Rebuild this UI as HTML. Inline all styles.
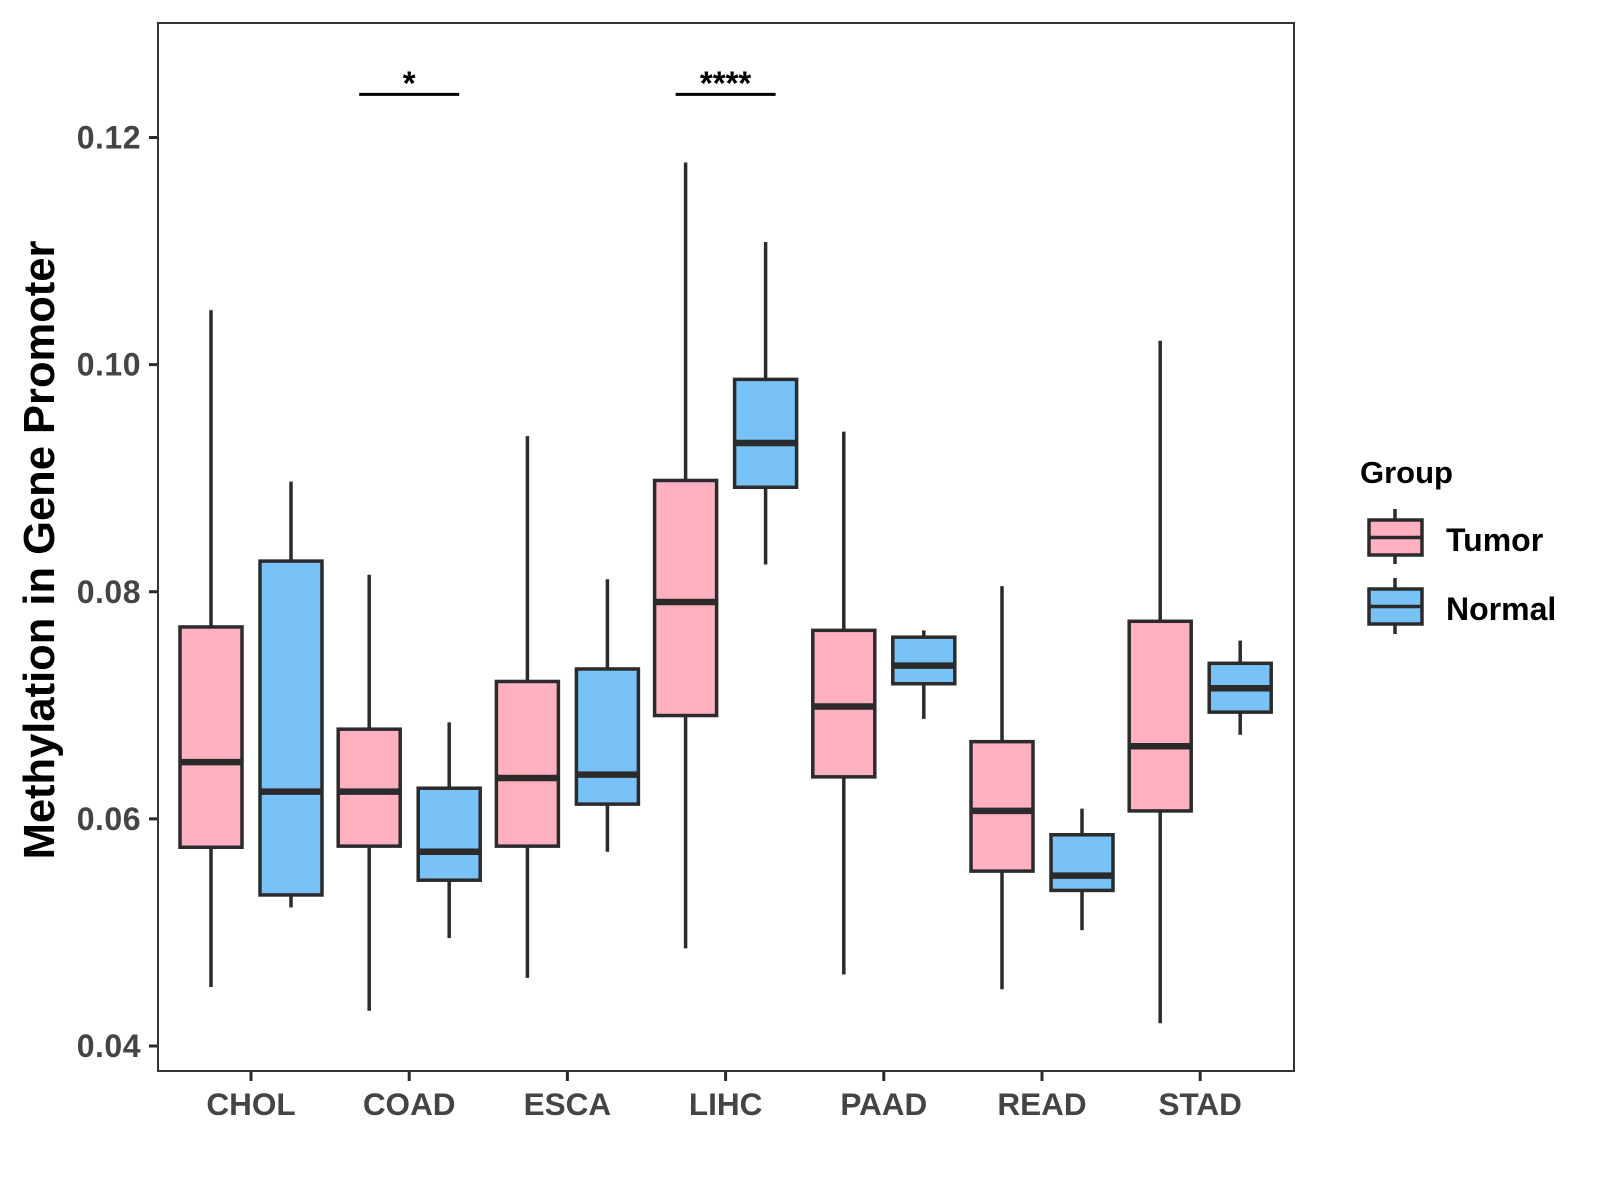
<!DOCTYPE html>
<html><head><meta charset="utf-8"><style>
body{margin:0;background:#fff;}
svg{display:block;font-family:"Liberation Sans",Arial,sans-serif;}
</style></head><body>
<svg id="chart" width="1600" height="1200" viewBox="0 0 1600 1200">
<rect x="0" y="0" width="1600" height="1200" fill="#fff"/>
<g id="plot"></g>
<g id="legend">
<text x="1360" y="483" font-size="31" font-weight="bold" fill="#000">Group</text>
<g>
<line x1="1395" y1="509" x2="1395" y2="564" stroke="#2b2b2b" stroke-width="3.5"/>
<rect x="1369" y="520" width="53" height="35" fill="#FFB0C1" stroke="#2b2b2b" stroke-width="3.5"/>
<line x1="1369" y1="537.5" x2="1422" y2="537.5" stroke="#2b2b2b" stroke-width="3.5"/>
<text x="1446" y="551" font-size="32" font-weight="bold" fill="#000">Tumor</text>
</g>
<g>
<line x1="1395" y1="578" x2="1395" y2="634" stroke="#2b2b2b" stroke-width="3.5"/>
<rect x="1369" y="589" width="53" height="35" fill="#78C2F8" stroke="#2b2b2b" stroke-width="3.5"/>
<line x1="1369" y1="606.5" x2="1422" y2="606.5" stroke="#2b2b2b" stroke-width="3.5"/>
<text x="1446" y="620" font-size="32" font-weight="bold" fill="#000">Normal</text>
</g>
</g>
</svg>
<script>
const categories = ["CHOL","COAD","ESCA","LIHC","PAAD","READ","STAD"];
const tumorLow = [0.0452,0.0431,0.0460,0.0486,0.0463,0.0450,0.0420];
const tumorQ1  = [0.0575,0.0576,0.0576,0.0691,0.0637,0.0554,0.0607];
const tumorMed = [0.0650,0.0624,0.0636,0.0791,0.0699,0.0607,0.0664];
const tumorQ3  = [0.0769,0.0679,0.0721,0.0898,0.0766,0.0668,0.0774];
const tumorHigh= [0.1048,0.0815,0.0937,0.1178,0.0941,0.0805,0.1021];
const normalLow = [0.0522,0.0495,0.0571,0.0824,0.0688,0.0502,0.0674];
const normalQ1  = [0.0533,0.0546,0.0613,0.0892,0.0719,0.0537,0.0694];
const normalMed = [0.0624,0.0571,0.0639,0.0931,0.0735,0.0550,0.0715];
const normalQ3  = [0.0827,0.0627,0.0732,0.0987,0.0760,0.0586,0.0737];
const normalHigh= [0.0897,0.0685,0.0811,0.1108,0.0766,0.0609,0.0757];
const yTicks = [0.04,0.06,0.08,0.10,0.12];
const yTickLabels = ["0.04","0.06","0.08","0.10","0.12"];
const sigCategories = ["COAD","LIHC"];
const sigLabels = ["*","****"];
const sigValue = 0.1238;

const NS="http://www.w3.org/2000/svg";
const L=158,R=1294,T=23,B=1071;
const y0v=0.04,y0p=1046,y1v=0.12,y1p=137.5;
function yScale(v){return y0p+(v-y0v)*(y1p-y0p)/(y1v-y0v);}
function xScale(i){return 251+i*158.2;}
const plot=document.getElementById('plot');
function mk(tag,attrs,parent){const e=document.createElementNS(NS,tag);for(const k in attrs)e.setAttribute(k,attrs[k]);(parent||plot).appendChild(e);return e;}

const ax=mk('g',{});


yTicks.forEach((v,i)=>{
  const y=yScale(v);
  mk('line',{x1:L-9,y1:y,x2:L,y2:y,stroke:'#2b2b2b','stroke-width':3},ax);
  const t=mk('text',{x:L-17,y:y+11,'font-size':32,'font-weight':'bold',fill:'#444','text-anchor':'end','letter-spacing':'0.5'},ax);
  t.textContent=yTickLabels[i];
  
  
});
const xa=mk('g',{});


categories.forEach((c,i)=>{
  const x=xScale(i);
  mk('line',{x1:x,y1:B,x2:x,y2:B+10,stroke:'#2b2b2b','stroke-width':3},xa);
  const t=mk('text',{x:x,y:B+44,'font-size':31.5,'font-weight':'bold',fill:'#444','text-anchor':'middle'},xa);
  t.textContent=c;
  
  
});
const yt=mk('text',{x:0,y:0,'font-size':43.5,'font-weight':'bold',fill:'#000','text-anchor':'middle',transform:'translate(54,550) rotate(-90)'});
yt.textContent='Methylation in Gene Promoter';



function box(cx,lo,q1,md,q3,hi,fill,name){
  const g=mk('g',{});
  
  
  const hw=31;
  mk('line',{x1:cx,y1:yScale(hi),x2:cx,y2:yScale(q3),stroke:'#2b2b2b','stroke-width':3.5},g);
  mk('line',{x1:cx,y1:yScale(q1),x2:cx,y2:yScale(lo),stroke:'#2b2b2b','stroke-width':3.5},g);
  mk('rect',{x:cx-hw,y:yScale(q3),width:hw*2,height:yScale(q1)-yScale(q3),fill:fill,stroke:'#2b2b2b','stroke-width':3.5},g);
  mk('line',{x1:cx-hw,y1:yScale(md),x2:cx+hw,y2:yScale(md),stroke:'#2b2b2b','stroke-width':6.5},g);
}
categories.forEach((c,i)=>{
  box(xScale(i)-40,tumorLow[i],tumorQ1[i],tumorMed[i],tumorQ3[i],tumorHigh[i],'#FFB0C1','box-'+c.toLowerCase()+'-tumor');
  box(xScale(i)+40,normalLow[i],normalQ1[i],normalMed[i],normalQ3[i],normalHigh[i],'#78C2F8','box-'+c.toLowerCase()+'-normal');
});
sigCategories.forEach((c,k)=>{
  const i=categories.indexOf(c);
  const y=yScale(sigValue);
  const g=mk('g',{});
  
  
  mk('line',{x1:xScale(i)-50,y1:y,x2:xScale(i)+50,y2:y,stroke:'#000','stroke-width':3},g);
  const t=mk('text',{x:xScale(i),y:y,'font-size':33,'font-weight':'bold',fill:'#000','text-anchor':'middle'},g);
  t.textContent=sigLabels[k];
});
const fr=mk('rect',{x:L,y:T,width:R-L,height:B-T,fill:'none',stroke:'#333','stroke-width':2});


</script>
</body></html>
